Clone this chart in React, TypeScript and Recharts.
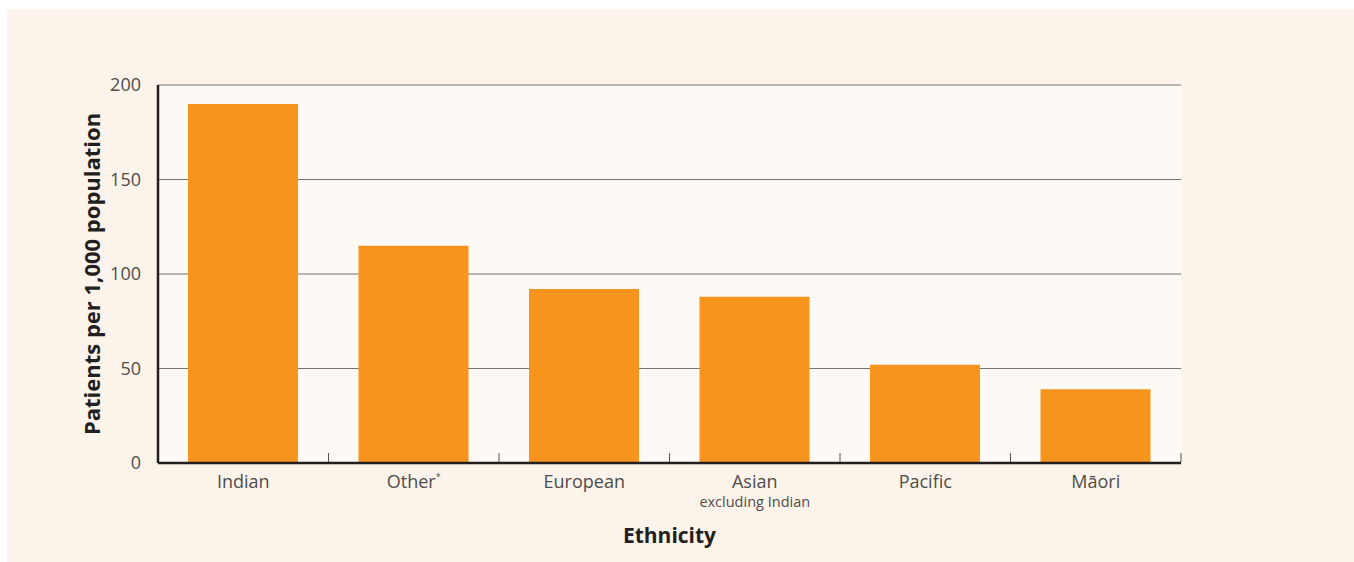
import { BarChart, Bar, XAxis, YAxis, CartesianGrid } from 'recharts';

const categories = ['Indian', 'Other', 'European', 'Asian', 'Pacific', 'Māori'];
const subLabels = ['', '', '', 'excluding Indian', '', ''];
const rates = [190, 115, 92, 88, 52, 39];
const yTicks = [0, 50, 100, 150, 200];

const data = categories.map((name, i) => ({ name, value: rates[i] }));

const CHART_W = 1347;
const CHART_H = 553;
const MARGIN = { top: 76, right: 173, left: 31, bottom: 39 };
const Y_AXIS_W = 120;
const PLOT_W = CHART_W - MARGIN.left - MARGIN.right - Y_AXIS_W;
const BAND = PLOT_W / categories.length;
const TICK_SIZE = 6;

const TEXT = '#4f4c4a';
const DARK = '#231f20';
const FONT = 'Open Sans';

function CategoryTick(props: any) {
  const { x, y, payload, index } = props;
  const sub = subLabels[index];
  const edge = x + BAND / 2;
  const axisY = y - TICK_SIZE;
  return (
    <g>
      {/* category boundary tick pointing into the plot */}
      <line x1={edge} x2={edge} y1={axisY - 1} y2={axisY - 10} stroke="#555" strokeWidth={1} />
      <text x={x} y={y + 19} textAnchor="middle" fill={TEXT} fontSize={18} fontFamily={FONT}>
        {payload.value}
        {payload.value === 'Other' && (
          <tspan dy={-8} fontSize={9}>*</tspan>
        )}
      </text>
      {sub && (
        <text x={x} y={y + 38} textAnchor="middle" fill={TEXT} fontSize={14.5} fontFamily={FONT}>
          {sub}
        </text>
      )}
    </g>
  );
}

export default function App() {
  return (
    <div style={{ position: 'absolute', left: 7, top: 9, width: CHART_W, height: CHART_H, background: '#fcf4ea' }}>
      <BarChart width={CHART_W} height={CHART_H} data={data} margin={MARGIN}>
        <CartesianGrid vertical={false} stroke="#767270" strokeWidth={1} fill="#fdf9f4" />
        <XAxis
          dataKey="name"
          height={60}
          tickLine={false}
          tickSize={TICK_SIZE}
          tickMargin={0}
          axisLine={{ stroke: DARK, strokeWidth: 2.5 }}
          tick={<CategoryTick />}
          interval={0}
          label={{
            content: (p: any) => {
              const vb = p.viewBox;
              return (
                <text x={vb.x + vb.width / 2} y={vb.y + 80} textAnchor="middle" fill={DARK} fontSize={21} fontWeight={700} fontFamily={FONT}>
                  Ethnicity
                </text>
              );
            },
          }}
        />
        <YAxis
          width={Y_AXIS_W}
          domain={[0, 200]}
          ticks={yTicks}
          tickLine={false}
          tickMargin={11}
          axisLine={{ stroke: DARK, strokeWidth: 2.5 }}
          tick={{ fill: TEXT, fontSize: 18, fontFamily: FONT }}
          label={{
            content: (p: any) => {
              const vb = p.viewBox;
              const cx = vb.x + 53;
              const cy = vb.y + vb.height / 2;
              return (
                <text x={cx} y={cy} transform={`rotate(-90 ${cx} ${cy})`} textAnchor="middle" dominantBaseline="central" fill={DARK} fontSize={22} fontWeight={700} fontFamily={FONT}>
                  Patients per 1,000 population
                </text>
              );
            },
          }}
        />
        <Bar dataKey="value" fill="#f7941d" barSize={110} isAnimationActive={false} />
      </BarChart>
    </div>
  );
}
